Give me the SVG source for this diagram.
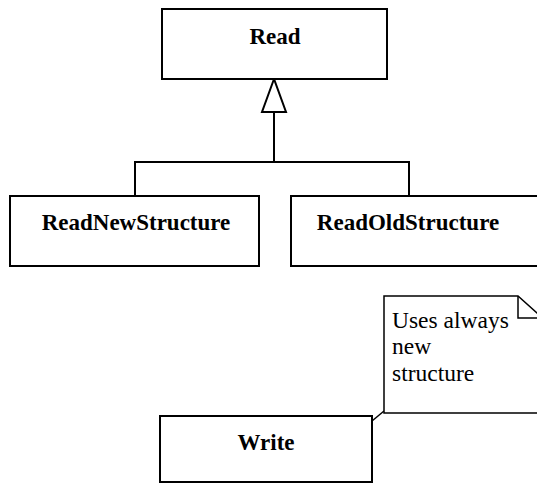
<svg xmlns="http://www.w3.org/2000/svg" width="537" height="483" viewBox="0 0 537 483">
<style>
.box{fill:#fff;stroke:#000;stroke-width:2}
.lbl{font-family:"Liberation Serif","Times New Roman",serif;font-weight:bold;font-size:23px;text-anchor:middle;fill:#000}
.note{font-family:"Liberation Serif","Times New Roman",serif;font-size:23.5px;fill:#000}
.ln{fill:none;stroke:#000;stroke-width:2}
</style>
<rect width="537" height="483" fill="#fff"/>
<g id="connectors">
<polyline class="ln" points="274,112 274,162"/>
<polyline class="ln" points="135,195 135,162 409,162 409,195"/>
<polygon points="274,79 262,112 286,112" fill="#fff" stroke="#000" stroke-width="2"/>
<line x1="372" y1="421" x2="384" y2="411" stroke="#000" stroke-width="1.5"/>
</g>
<g id="Read">
<rect class="box" x="162" y="9" width="225" height="70"/>
<text class="lbl" x="275" y="44">Read</text>
</g>
<g id="ReadNewStructure">
<rect class="box" x="10" y="196" width="249" height="70"/>
<text class="lbl" x="136" y="230">ReadNewStructure</text>
</g>
<g id="ReadOldStructure">
<rect class="box" x="291" y="196" width="260" height="70"/>
<text class="lbl" x="408" y="230">ReadOldStructure</text>
</g>
<g id="Write">
<rect class="box" x="160" y="416" width="212" height="66"/>
<text class="lbl" x="266" y="450">Write</text>
</g>
<g id="Note">
<polygon points="384,296 518,296 545,320 545,413 384,413" fill="#fff" stroke="#000" stroke-width="1.5"/>
<polyline points="518,296 518,318 540,318" fill="none" stroke="#000" stroke-width="1.5"/>
<text class="note" x="392" y="328">Uses always</text>
<text class="note" x="392" y="354">new</text>
<text class="note" x="392" y="381">structure</text>
</g>
</svg>
